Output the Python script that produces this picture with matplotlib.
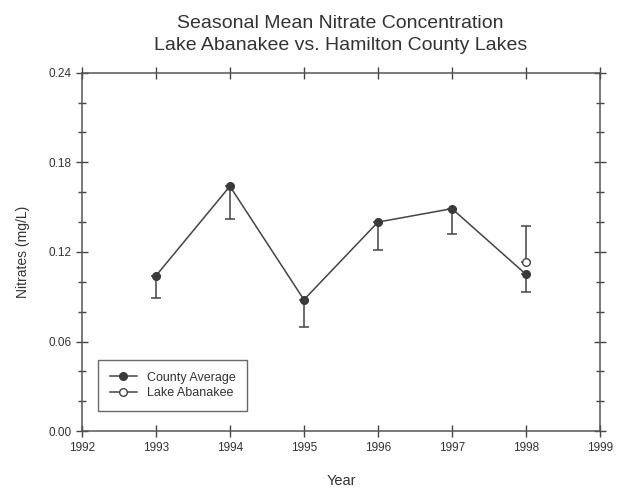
import matplotlib.pyplot as plt
from matplotlib.ticker import MultipleLocator
from matplotlib.lines import Line2D

plt.rcParams['font.family'] = ['Liberation Sans', 'DejaVu Sans']

# data
years = [1993, 1994, 1995, 1996, 1997, 1998]
county_avg = [0.104, 0.164, 0.088, 0.140, 0.149, 0.105]
county_err_low = [0.015, 0.022, 0.018, 0.019, 0.017, 0.012]

lake_years = [1998]
lake_vals = [0.1135]
lake_err_high = [0.024]

fig = plt.figure(figsize=(6.25, 4.95), dpi=100)
ax = fig.add_axes([0.131, 0.129, 0.829, 0.724])

ax.errorbar(years, county_avg, yerr=[county_err_low, [0] * len(years)],
            color='#444444', lw=1.1, marker='o', ms=5.5, mfc='#3a3a3a', mec='#3a3a3a',
            ecolor='#444444', elinewidth=1.1, capsize=3.5, capthick=1.1, zorder=3)
ax.errorbar(lake_years, lake_vals, yerr=[[0] * len(lake_years), lake_err_high],
            color='#444444', lw=1.1, marker='o', ms=5.5, mfc='white', mec='#444444',
            ecolor='#444444', elinewidth=1.1, capsize=3.5, capthick=1.1, zorder=4)

ax.set_xlim(1992, 1999)
ax.set_ylim(0, 0.24)
ax.set_xticks(range(1992, 2000))
ax.yaxis.set_major_locator(MultipleLocator(0.06))
ax.yaxis.set_minor_locator(MultipleLocator(0.02))
ax.yaxis.set_major_formatter(plt.FuncFormatter(lambda v, p: f'{v:.2f}'))

ax.tick_params(which='both', direction='inout', top=True, right=True,
               color='#444444', width=1, labelsize=8.5, labelcolor='#333333')
ax.tick_params(which='major', length=8)
ax.tick_params(which='minor', length=6)
for s in ax.spines.values():
    s.set_color('#555555')
    s.set_linewidth(1.1)

ax.set_xlabel('Year', fontsize=10.5, color='#333333', labelpad=15)
ax.set_ylabel('Nitrates (mg/L)', fontsize=10, color='#333333', labelpad=13)
fig.suptitle('Seasonal Mean Nitrate Concentration\nLake Abanakee vs. Hamilton County Lakes',
             x=0.545, y=0.97, fontsize=14, color='#333333', linespacing=1.4)

handles = [
    Line2D([], [], color='#444444', lw=1.1, marker='o', ms=5.5, mfc='#3a3a3a', mec='#3a3a3a'),
    Line2D([], [], color='#444444', lw=1.1, marker='o', ms=5.5, mfc='white', mec='#444444'),
]
leg = ax.legend(handles, ['County Average', 'Lake Abanakee'], loc='lower left',
                bbox_to_anchor=(0.02, 0.04), fontsize=9,
                frameon=True, fancybox=False, edgecolor='#444444',
                handlelength=2.2, borderpad=0.9, labelspacing=0.3)
leg.get_frame().set_linewidth(1)
for t in leg.get_texts():
    t.set_color('#333333')

fig.savefig('out.png', dpi=100)
